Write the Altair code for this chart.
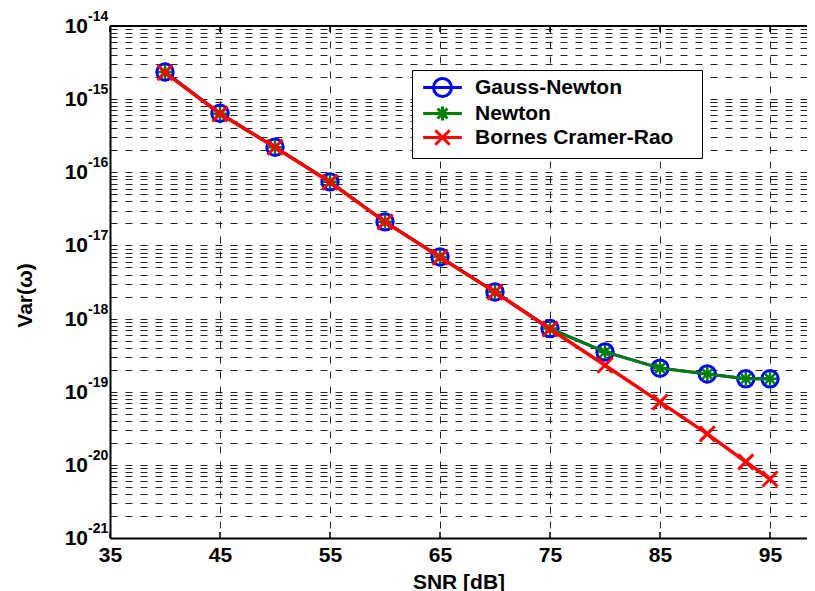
import altair as alt
import pandas as pd

# ---- data ----
snr = [40, 45, 50, 55, 60, 65, 70, 75, 80, 85, 89.3, 92.8, 95]
gauss_newton = [2.35e-15, 6.4e-16, 2.2e-16, 7.4e-17, 2.1e-17, 6.95e-18, 2.31e-18,
                7.3e-19, 3.5e-19, 2.1e-19, 1.75e-19, 1.5e-19, 1.5e-19]
newton = [2.35e-15, 6.3e-16, 2.2e-16, 7.4e-17, 2.1e-17, 6.95e-18, 2.31e-18,
          7.3e-19, 3.5e-19, 2.1e-19, 1.75e-19, 1.5e-19, 1.5e-19]
crb = [2.3e-15, 6.3e-16, 2.2e-16, 7.3e-17, 2.1e-17, 6.9e-18, 2.3e-18,
       7.2e-19, 2.3e-19, 7.2e-20, 2.65e-20, 1.1e-20, 6.4e-21]

series_names = ["Gauss-Newton", "Newton", "Bornes Cramer-Rao"]
series_colors = ["#0000ff", "#008000", "#ff0000"]
x_ticks = [35, 45, 55, 65, 75, 85, 95]
decades = [-14, -15, -16, -17, -18, -19, -20, -21]

FONT = "Liberation Sans"
W, H = 697, 512

rows = []
for name, vals in zip(series_names, [gauss_newton, newton, crb]):
    for s, v in zip(snr, vals):
        rows.append({"snr": s, "value": v, "series": name})
df = pd.DataFrame(rows)

grid_vals = [k * 10.0 ** e for e in range(-21, -14) for k in range(1, 10)] + [1e-14]

x_enc = alt.X(
    "snr:Q",
    scale=alt.Scale(domain=[35, 35 + W / 11.0], nice=False, zero=False),
    axis=alt.Axis(values=x_ticks, title="SNR [dB]", grid=True, ticks=False,
                  labelFlush=False, labelFont=FONT, labelFontSize=21,
                  labelFontWeight="bold", labelColor="black", labelPadding=6,
                  titleFont=FONT, titleFontSize=21, titleFontWeight="bold",
                  titleColor="black", titleBaseline="alphabetic", titleY=50,
                  domainColor="black", domainWidth=2,
                  gridColor="black", gridDash=[7, 8], gridWidth=1, gridOpacity=0.85),
)
y_enc = alt.Y(
    "value:Q",
    scale=alt.Scale(type="log", domain=[1e-21, 1e-14], nice=False),
    axis=alt.Axis(values=grid_vals, labels=False, ticks=False, grid=True,
                  title="Var(ω)", titleFont=FONT, titleFontSize=21,
                  titleFontWeight="bold", titleColor="black", titleAngle=270,
                  titleX=-85, titleY=269, titleAlign="center", titleBaseline="middle",
                  domainColor="black", domainWidth=2,
                  gridColor="black", gridDash=[7, 8], gridWidth=1, gridOpacity=0.85),
)

base = alt.Chart(df)

def line_layer(name, color, width):
    return base.transform_filter(alt.datum.series == name).mark_line(
        color=color, strokeWidth=width).encode(x=x_enc, y=y_enc)

def point_layer(name, color, shape, size, sw):
    return base.transform_filter(alt.datum.series == name).mark_point(
        shape=shape, size=size, filled=False, color=color, strokeWidth=sw,
        opacity=1).encode(x=x_enc, y=y_enc)

ASTER = "M0,-1L0,1M-1,0L1,0M-0.7,-0.7L0.7,0.7M-0.7,0.7L0.7,-0.7"
XSHAPE = "M-1,-1L1,1M-1,1L1,-1"

layers = [
    line_layer("Gauss-Newton", "#0000ff", 3),
    point_layer("Gauss-Newton", "#0000ff", "circle", 270, 3),
    line_layer("Newton", "#008000", 3),
    point_layer("Newton", "#008000", ASTER, 196, 2.5),
    line_layer("Bornes Cramer-Rao", "#ff0000", 3.5),
    point_layer("Bornes Cramer-Rao", "#ff0000", XSHAPE, 225, 3),
]

# top border of the frame
top_border = alt.Chart(pd.DataFrame({"a": [0]})).mark_rule(
    color="black", strokeWidth=2).encode(x=alt.value(0), x2=alt.value(W), y=alt.value(0))

# inward tick marks on bottom and top x axes
tick_df = pd.DataFrame({"snr": x_ticks})
ticks_bottom = alt.Chart(tick_df).mark_rule(color="black", strokeWidth=1.5).encode(
    x=x_enc, y=alt.value(H), y2=alt.value(H - 6))
ticks_top = alt.Chart(tick_df).mark_rule(color="black", strokeWidth=1.5).encode(
    x=x_enc, y=alt.value(0), y2=alt.value(6))

# y tick labels: "10" with raised exponent
lab_df = pd.DataFrame({"value": [10.0 ** d for d in decades],
                       "exp": [str(d) for d in decades]})
lab_base = alt.Chart(lab_df)
ten = lab_base.mark_text(text="10", align="right", baseline="middle", font=FONT,
                         fontSize=21, fontWeight="bold", color="black", dy=1).encode(
    x=alt.value(-22), y=y_enc)
expo = lab_base.mark_text(align="left", baseline="middle", font=FONT, fontSize=14,
                          fontWeight="bold", color="black", dy=-9).encode(
    x=alt.value(-22), y=y_enc, text="exp:N")

# legend (symbols drawn as line + marker like the reference)
LEG_PATHS = [
    "M-2.15,0L2.15,0M1,0A1,1,0,1,1,-1,0A1,1,0,1,1,1,0",
    "M-2.15,0L2.15,0M0,-0.78L0,0.78M-0.55,-0.55L0.55,0.55M-0.55,0.55L0.55,-0.55",
    "M-2.15,0L2.15,0M-0.8,-0.8L0.8,0.8M-0.8,0.8L0.8,-0.8",
]
leg = alt.Legend(title=None, orient="none", legendX=302, legendY=44, padding=7,
                 strokeColor="black", fillColor="white", cornerRadius=0,
                 symbolSize=324, symbolStrokeWidth=3, symbolOffset=13,
                 symbolFillColor="transparent",
                 labelOffset=22, labelFont=FONT, labelFontSize=21, labelLimit=400,
                 labelFontWeight="bold", labelColor="black", rowPadding=-3,
                 labelExpr="datum.label + ' \u2800'")
leg_df = pd.DataFrame({"series": series_names})
legend_layer = alt.Chart(leg_df).mark_point(opacity=0, filled=False, strokeWidth=3).encode(
    x=alt.value(0), y=alt.value(0),
    color=alt.Color("series:N", scale=alt.Scale(domain=series_names, range=series_colors),
                    legend=leg),
    shape=alt.Shape("series:N", scale=alt.Scale(domain=series_names, range=LEG_PATHS),
                    legend=leg),
)

chart = alt.layer(*layers, top_border, ticks_bottom, ticks_top, ten, expo,
                  legend_layer).properties(
    width=W, height=H,
    autosize=alt.AutoSizeParams(type="none"),
    padding={"left": 102, "top": 18, "right": 0, "bottom": 56},
    background="white",
).configure_view(stroke=None)

chart.save("out.html", embed_options={"renderer": "svg", "actions": False})
